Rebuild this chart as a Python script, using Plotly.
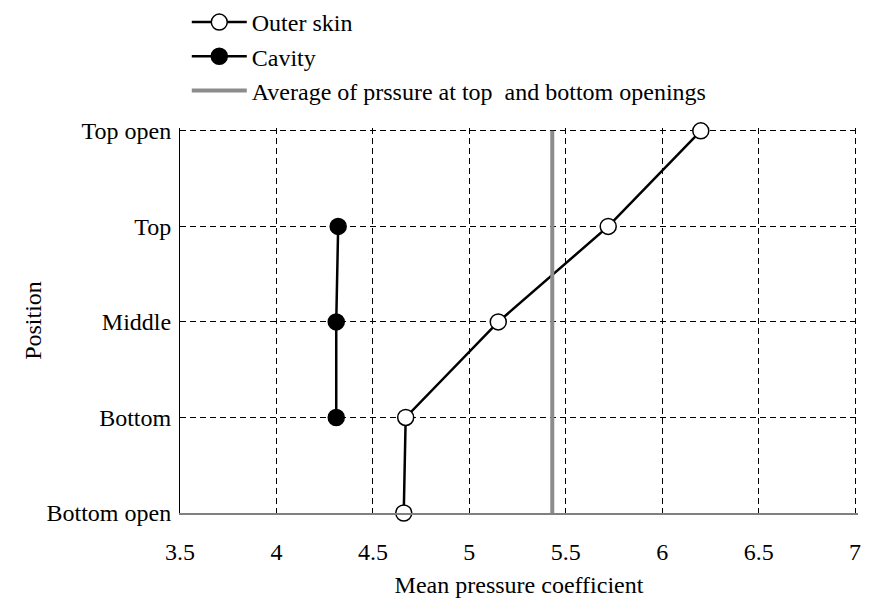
import plotly.graph_objects as go

# Positions along the facade, bottom to top
positions = ["Bottom open", "Bottom", "Middle", "Top", "Top open"]
pos_index = [0, 1, 2, 3, 4]

# Mean pressure coefficient on the outer skin (all five positions)
outer_skin = [4.66, 4.67, 5.15, 5.72, 6.20]

# Mean pressure coefficient inside the cavity (Bottom, Middle, Top)
cavity_idx = [1, 2, 3]
cavity = [4.31, 4.31, 4.32]

# Average of the pressure at the top and bottom openings
opening_avg = 5.43

x_ticks = [3.5, 4, 4.5, 5, 5.5, 6, 6.5, 7]
x_tick_text = ["3.5", "4", "4.5", "5", "5.5", "6", "6.5", "7"]

FONT = "Liberation Serif"
FS = 24

fig = go.Figure()

fig.add_trace(go.Scatter(
    x=outer_skin, y=pos_index, name="Outer skin", mode="lines+markers",
    line=dict(color="black", width=2.5),
    marker=dict(symbol="circle", size=16, color="white",
                line=dict(color="black", width=1.5)),
    cliponaxis=False,
))
fig.add_trace(go.Scatter(
    x=cavity, y=cavity_idx, name="Cavity", mode="lines+markers",
    line=dict(color="black", width=2.5),
    marker=dict(symbol="circle", size=16, color="black",
                line=dict(color="black", width=1.5)),
    cliponaxis=False,
))
fig.add_trace(go.Scatter(
    x=[opening_avg, opening_avg], y=[pos_index[0], pos_index[-1]],
    name="Average of prssure at top  and bottom openings", mode="lines",
    line=dict(color="#8c8c8c", width=4),
))

# Y-axis title placed as a rotated annotation just left of the tick labels
fig.add_annotation(
    text="Position", textangle=-90, showarrow=False,
    xref="paper", yref="paper", x=-0.2178, y=0.5,
    xanchor="center", yanchor="middle",
    font=dict(family=FONT, size=FS, color="black"),
)

# A little range padding so the gridlines at 7 and at "Top open" are drawn;
# margins are trimmed by the same amount to keep the data area in place.
fig.update_layout(
    width=869, height=599,
    margin=dict(l=180, r=11, t=128, b=86, autoexpand=False),
    paper_bgcolor="white", plot_bgcolor="white",
    font=dict(family=FONT, size=FS, color="black"),
    showlegend=True,
    legend=dict(
        x=0.01, y=1.0, yref="container", xanchor="left", yanchor="top",
        traceorder="normal",
        font=dict(family=FONT, size=FS, color="black"),
        bgcolor="rgba(0,0,0,0)", itemwidth=55,
    ),
    xaxis=dict(
        range=[3.5, 7.015], tickvals=x_ticks, ticktext=x_tick_text,
        showgrid=True, gridcolor="black", gridwidth=1, griddash="6px,4px",
        showline=True, linecolor="#808080", linewidth=2,
        ticks="", ticklabelstandoff=16, automargin=False,
        tickfont=dict(family=FONT, size=FS),
        title=dict(text="Mean pressure coefficient", standoff=12,
                   font=dict(family=FONT, size=FS)),
        zeroline=False,
    ),
    yaxis=dict(
        range=[0, 4.03], tickvals=pos_index, ticktext=positions,
        showgrid=True, gridcolor="black", gridwidth=1, griddash="6px,4px",
        showline=True, linecolor="black", linewidth=1,
        ticks="", ticklabelstandoff=3, automargin=False,
        tickfont=dict(family=FONT, size=FS),
        zeroline=False,
    ),
)

fig.write_html("out.html")
